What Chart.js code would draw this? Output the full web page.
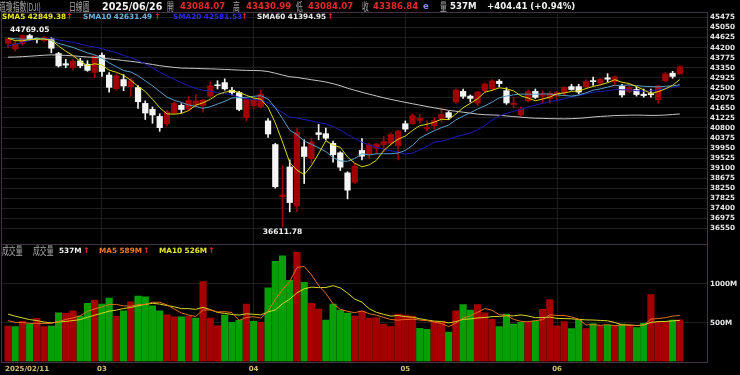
<!DOCTYPE html>
<html>
<head>
<meta charset="utf-8">
<title>道瓊指數(DJI) 日線圖</title>
<script src="https://cdn.jsdelivr.net/npm/chart.js@4.4.1/dist/chart.umd.min.js"></script>
<style>
  html, body { margin: 0; padding: 0; background: #000; }
  #wrap { position: relative; width: 740px; height: 375px; overflow: hidden; background: #000; }
  #priceChart { position: absolute; left: 0; top: 0; }
  #volumeChart { position: absolute; left: 0; top: 244px; }
  .t { position: absolute; white-space: nowrap; font-family: "DejaVu Sans", sans-serif; font-weight: bold; line-height: 1; }
  .h1 { top: 2px; font-size: 8.6px; }
  .h2 { top: 13px; font-size: 7.3px; }
  .h3 { top: 246.5px; font-size: 7.3px; }
  .cjk { font-family: "Noto Sans CJK TC", sans-serif; font-weight: normal; color: #a8a8a8; font-size: 11px; transform: scaleX(0.62); transform-origin: 0 50%; }
  .w { color: #f2f2f2; }
  .r { color: #e42a2a; }
  .up { color: #e42a2a; font-size: 8px; }
</style>
</head>
<body>
<div id="wrap">
  <canvas id="priceChart" width="740" height="245"></canvas>
  <canvas id="volumeChart" width="740" height="131"></canvas>

  <span class="t cjk" style="left:-1px;top:1px">道瓊指數(DJI)</span>
  <span class="t cjk" style="left:69px;top:1px">日線圖</span>
  <span class="t h1 w" style="left:102px;font-size:9.6px;top:1.5px">2025/06/26</span>
  <span class="t cjk" style="left:167px;top:1px">開</span>
  <span class="t h1 r" style="left:180px">43084.07</span>
  <span class="t cjk" style="left:233px;top:1px">高</span>
  <span class="t h1 r" style="left:246px">43430.99</span>
  <span class="t cjk" style="left:296px;top:1px">低</span>
  <span class="t h1 r" style="left:308px">43084.07</span>
  <span class="t cjk" style="left:362px;top:1px">收</span>
  <span class="t h1 r" style="left:373px">43386.84</span>
  <span class="t h1" style="left:423px;color:#8c8cf0">e</span>
  <span class="t cjk" style="left:440px;top:1px">量</span>
  <span class="t h1 w" style="left:450px">537M</span>
  <span class="t h1 w" style="left:487px">+404.41 (+0.94%)</span>

  <span class="t h2" style="left:2px;color:#e6e61e">SMA5 42849.38</span>
  <span class="t h2 up" style="left:66px">↑</span>
  <span class="t h2" style="left:83px;color:#6cb4dc">SMA10 42631.49</span>
  <span class="t h2 up" style="left:154px">↑</span>
  <span class="t h2" style="left:173px;color:#2a2ae6">SMA20 42581.53</span>
  <span class="t h2 up" style="left:241px">↑</span>
  <span class="t h2" style="left:257px;color:#e6e6e6">SMA60 41394.95</span>
  <span class="t h2 up" style="left:327px">↑</span>

  <span class="t cjk" style="left:2px;top:244.5px">成交量</span>
  <span class="t cjk" style="left:33px;top:244.5px">成交量</span>
  <span class="t h3 w" style="left:59px">537M</span>
  <span class="t h3 up" style="left:83px">↑</span>
  <span class="t h3" style="left:99px;color:#ee7a2a">MA5 589M</span>
  <span class="t h3 up" style="left:143px">↑</span>
  <span class="t h3" style="left:159px;color:#e8e82a">MA10 526M</span>
  <span class="t h3 up" style="left:208px">↑</span>
</div>

<script>
// trading days shown, 2025/02/11 - 2025/06/26
const dates = [
  '02/11','02/12','02/13','02/14','02/18','02/19','02/20','02/21','02/24','02/25','02/26','02/27','02/28',
  '03/03','03/04','03/05','03/06','03/07','03/10','03/11','03/12','03/13','03/14','03/17','03/18','03/19','03/20','03/21','03/24','03/25','03/26','03/27','03/28','03/31',
  '04/01','04/02','04/03','04/04','04/07','04/08','04/09','04/10','04/11','04/14','04/15','04/16','04/17','04/21','04/22','04/23','04/24','04/25','04/28','04/29','04/30',
  '05/01','05/02','05/05','05/06','05/07','05/08','05/09','05/12','05/13','05/14','05/15','05/16','05/19','05/20','05/21','05/22','05/23','05/27','05/28','05/29','05/30',
  '06/02','06/03','06/04','06/05','06/06','06/09','06/10','06/11','06/12','06/13','06/16','06/17','06/18','06/20','06/23','06/24','06/25','06/26'
];

const opens = [
  44380, 44150, 44380, 44710, 44580, 44500, 44580, 43950, 43520, 43360, 43640, 43500, 43150,
  43880, 43040, 42470, 42850, 42540, 42510, 41840, 41590, 41290, 40980, 41430, 41760, 41600, 41780, 41750, 42150, 42620, 42720, 42400, 42300, 41240,
  41750, 41700, 41100, 40100, 37890, 39150, 37500, 40000, 39500, 40600, 40560, 40150, 39750, 38900, 38500, 39850, 39700, 39950, 40100, 40150, 40050,
  40980, 40980, 41120, 40780, 40900, 41200, 41450, 41900, 42350, 42150, 41850, 42370, 42460, 42780, 42380, 41790, 41350, 41950, 42350, 42150, 42050,
  42150, 42280, 42550, 42550, 42550, 42790, 42700, 42920, 42750, 42560, 42350, 42430, 42230, 42260, 42000, 42800, 43120, 43084.07
];
const highs = [
  44640, 44480, 44740, 44769.05, 44600, 44680, 44620, 44000, 43700, 43700, 43750, 43650, 43880,
  43980, 43150, 43100, 43060, 42900, 42600, 41950, 41690, 41400, 41560, 41900, 41830, 42150, 42200, 42000, 42750, 42800, 42880, 42520, 42350, 42050,
  42100, 42400, 41200, 40150, 39207, 39450, 40800, 40300, 40350, 40950, 40800, 40250, 39800, 38950, 39300, 40350, 40150, 40150, 40450, 40600, 40700,
  41100, 41400, 41380, 41100, 41250, 41650, 41500, 42450, 42450, 42200, 42350, 42700, 42850, 42850, 42500, 42100, 41700, 42400, 42450, 42380, 42350,
  42350, 42550, 42650, 42650, 42850, 42950, 42900, 43100, 43000, 42650, 42650, 42550, 42450, 42450, 42600, 43150, 43200, 43430.99
];
const lows = [
  44200, 44050, 44300, 44500, 44400, 44450, 43980, 43380, 43350, 43250, 43350, 43200, 42920,
  42980, 42320, 42400, 42380, 42140, 41630, 41160, 41000, 40660, 40900, 41380, 41450, 41520, 41700, 41470, 42100, 42450, 42400, 42200, 41530, 41100,
  41600, 41650, 40400, 38250, 36611.78, 37250, 37260, 38450, 39300, 40300, 40300, 39350, 39000, 37800, 38450, 39450, 39500, 39700, 39800, 40050, 39450,
  40650, 40950, 41000, 40700, 40750, 41050, 41150, 41850, 42050, 41900, 41750, 42300, 42380, 42550, 41800, 41650, 41300, 41900, 42050, 41850, 41850,
  41950, 42200, 42400, 42250, 42500, 42600, 42600, 42750, 42650, 42100, 42300, 42150, 42100, 42100, 41850, 42750, 42900, 43084.07
];
const closes = [
  44593.65, 44368.56, 44711.43, 44546.08, 44556.34, 44627.59, 44176.65, 43428.02, 43461.21, 43621.16, 43433.12, 43239.50, 43840.91,
  43191.24, 42520.99, 43006.59, 42579.08, 42801.72, 41911.71, 41433.48, 41350.93, 40813.57, 41488.19, 41841.63, 41581.31, 41964.63, 41953.32, 41985.35, 42583.32, 42587.50, 42454.79, 42299.70, 41583.90, 42001.76,
  41989.96, 42225.32, 40545.93, 38314.86, 37965.60, 37645.59, 40608.45, 39593.66, 40212.71, 40524.79, 40368.96, 39669.39, 39142.23, 38170.41, 39186.98, 39606.57, 40093.40, 40113.50, 40227.59, 40527.62, 40669.36,
  40752.96, 41317.43, 41218.83, 40829.00, 41113.97, 41368.45, 41249.38, 42410.10, 42140.43, 42051.06, 42322.75, 42654.74, 42792.07, 42677.24, 41860.44, 41859.09, 41603.07, 42343.65, 42098.70, 42215.73, 42270.07,
  42305.48, 42519.64, 42427.74, 42319.74, 42762.87, 42761.76, 42866.87, 42865.77, 42967.62, 42197.79, 42515.09, 42215.80, 42171.66, 42206.82, 42581.78, 43089.02, 42982.43, 43386.84
];
// volume, millions of shares
const volumes = [
  457, 449, 517, 483, 555, 449, 457, 628, 620, 654, 585, 748, 790,
  739, 816, 585, 654, 769, 842, 833, 718, 654, 602, 577, 577, 585, 560, 1030, 560, 461, 598, 504, 530, 739,
  517, 504, 948, 1290, 1363, 1047, 1406, 1021, 748, 675, 534, 739, 662, 624, 585, 650, 560, 564, 483, 449, 611,
  598, 585, 427, 415, 513, 513, 380, 654, 735, 662, 735, 628, 543, 449, 611, 483, 504, 513, 521, 671, 799,
  461, 513, 423, 534, 423, 487, 461, 470, 461, 483, 461, 436, 491, 863, 517, 517, 534, 537
];

// sessions before 02/11 (only feed the moving averages at the left edge)
const priorCloses = [
  43958.19, 43750.86, 43444.99, 43389.60, 43268.94, 43408.47, 43870.35, 44296.51, 44736.57, 44860.31, 44722.06, 44910.65,
  44782.00, 44705.53, 45014.04, 44765.71, 44642.52, 44401.93, 44247.83, 44148.56, 43914.12, 43828.06, 43717.48, 43449.90,
  42326.87, 42342.24, 42840.26, 42906.95, 43297.03, 43325.80, 42992.21, 42573.73, 42544.22,
  42392.27, 42732.13, 42706.56, 42528.36, 42635.20, 41938.45, 42297.12, 42518.28, 43221.55, 43153.13, 43487.83, 44025.81,
  44156.73, 44565.07, 44424.25, 44713.58, 44850.35, 44713.52, 44882.13, 44544.66,
  44421.91, 44556.04, 44873.28, 44747.63, 44303.40, 44470.41
];
const priorVolumes = [720, 740, 700, 680, 640, 560, 520, 545, 548];

const priceTicks = [36550, 36975, 37400, 37825, 38250, 38675, 39100, 39525, 39950, 40375, 40800,
  41225, 41650, 42075, 42500, 42925, 43350, 43775, 44200, 44625, 45050, 45475];
const volumeTicks = [500, 1000];
const monthIdx = [0, 13, 34, 55, 76];
const monthLabels = ['2025/02/11', '03', '04', '05', '06'];

const gridColor = '#1f1f1f';
const frameColor = '#433243';
const upColor = '#a00000';
const downColor = '#f4f4f4';
const volUp = '#a40000';
const volDown = '#06a006';

function movingAverage(series, prior, n) {
    const all = prior.concat(series);
    return series.map((_, i) => {
        const end = prior.length + i + 1;
        let sum = 0;
        for (let k = end - n; k < end; k++) sum += all[k];
        return sum / n;
    });
}

function points(arr) {
    return arr.map((v, i) => ({ x: i, y: v }));
}

const sma5 = movingAverage(closes, priorCloses, 5);
const sma10 = movingAverage(closes, priorCloses, 10);
const sma20 = movingAverage(closes, priorCloses, 20);
const sma60 = movingAverage(closes, priorCloses, 60);
const volMa5 = movingAverage(volumes, priorVolumes, 5);
const volMa10 = movingAverage(volumes, priorVolumes, 10);

const candleColors = closes.map((c, i) => c >= opens[i] ? upColor : downColor);
const volumeColors = closes.map((c, i) => {
    const prev = i === 0 ? priorCloses[priorCloses.length - 1] : closes[i - 1];
    return c >= prev ? volUp : volDown;
});

const tickFont = { family: 'DejaVu Sans', size: 7.2, weight: 'bold' };

function xScale(labelRoom) {
    return {
        type: 'linear',
        min: -0.97,
        max: 96.9,
        offset: false,
        afterBuildTicks: s => { s.ticks = monthIdx.slice(1).map(v => ({ value: v })); },
        afterFit: s => { s.height = labelRoom; s.paddingLeft = 0; s.paddingRight = 0; },
        grid: { color: gridColor, drawTicks: false, offset: false },
        border: { display: false },
        ticks: { display: false }
    };
}

function lineSet(data, color) {
    return { type: 'line', data: points(data), borderColor: color, borderWidth: 1,
        pointRadius: 0, tension: 0, order: 0 };
}

function drawFrame(chart) {
    const { ctx, chartArea: a } = chart;
    ctx.save();
    ctx.strokeStyle = frameColor;
    ctx.lineWidth = 1;
    ctx.strokeRect(Math.round(a.left) + 0.5, Math.round(a.top) + 0.5,
        Math.round(a.right - a.left) - 1, Math.round(a.bottom - a.top));
    ctx.restore();
}

const priceDecor = {
    id: 'priceDecor',
    afterDraw(chart) {
        drawFrame(chart);
        const { ctx, scales } = chart;
        const hi = Math.max(...highs), iHi = highs.indexOf(hi);
        const lo = Math.min(...lows), iLo = lows.indexOf(lo);
        ctx.save();
        ctx.font = 'bold 7.5px "DejaVu Sans"';
        ctx.fillStyle = '#f0f0f0';
        ctx.textAlign = 'center';
        ctx.textBaseline = 'bottom';
        ctx.fillText(hi.toFixed(2), scales.x.getPixelForValue(iHi), scales.y.getPixelForValue(hi) - 0.5);
        ctx.textBaseline = 'top';
        ctx.fillText(lo.toFixed(2), scales.x.getPixelForValue(iLo), scales.y.getPixelForValue(lo) + 1);
        ctx.restore();
    }
};

const volumeDecor = {
    id: 'volumeDecor',
    afterDraw(chart) {
        drawFrame(chart);
        const { ctx, chartArea: a, scales } = chart;
        ctx.save();
        ctx.font = 'bold 7px "DejaVu Sans"';
        ctx.fillStyle = '#cfc070';
        ctx.textBaseline = 'middle';
        monthIdx.forEach((m, k) => {
            const px = scales.x.getPixelForValue(m);
            if (k === 0) {
                ctx.textAlign = 'left';
                ctx.fillText(monthLabels[k], px - 3, a.bottom + 8);
            } else {
                ctx.textAlign = 'center';
                ctx.fillText(monthLabels[k], px, a.bottom + 8);
            }
        });
        ctx.restore();
    }
};

new Chart(document.getElementById('priceChart'), {
    type: 'bar',
    data: {
        datasets: [
            lineSet(sma5, '#d8d800'),
            lineSet(sma10, '#5a9ec8'),
            lineSet(sma20, '#1c1cba'),
            lineSet(sma60, '#c4c4c4'),
            {
                label: 'body',
                data: closes.map((c, i) => ({ x: i, y: [opens[i], c] })),
                backgroundColor: candleColors,
                barThickness: 5.6,
                minBarLength: 1,
                grouped: false,
                order: 1
            },
            {
                label: 'wick',
                data: highs.map((h, i) => ({ x: i, y: [lows[i], h] })),
                backgroundColor: candleColors,
                barThickness: 1,
                grouped: false,
                order: 2
            }
        ]
    },
    options: {
        responsive: false,
        animation: false,
        devicePixelRatio: 1,
        layout: { padding: { left: 1, top: 12, right: 0, bottom: 0 } },
        plugins: { legend: { display: false }, tooltip: { enabled: false } },
        scales: {
            x: xScale(0),
            y: {
                position: 'right',
                min: 35848.75,
                max: 45708.75,
                afterBuildTicks: s => { s.ticks = priceTicks.map(v => ({ value: v })); },
                afterFit: s => { s.width = 32; s.paddingTop = 0; s.paddingBottom = 0; },
                grid: { color: gridColor, drawTicks: false },
                border: { display: false },
                ticks: { color: '#e6e6e6', font: tickFont, padding: 2, autoSkip: false, crossAlign: 'near',
                    callback: v => String(v) }
            }
        }
    },
    plugins: [priceDecor]
});

new Chart(document.getElementById('volumeChart'), {
    type: 'bar',
    data: {
        datasets: [
            lineSet(volMa5, '#e0701e'),
            lineSet(volMa10, '#d8d820'),
            {
                label: 'volume',
                data: points(volumes),
                backgroundColor: volumeColors,
                barThickness: 6.5,
                grouped: false,
                order: 1
            }
        ]
    },
    options: {
        responsive: false,
        animation: false,
        devicePixelRatio: 1,
        layout: { padding: { left: 1, top: 0, right: 0, bottom: 0 } },
        plugins: { legend: { display: false }, tooltip: { enabled: false } },
        scales: {
            x: xScale(13.5),
            y: {
                position: 'right',
                min: 0,
                max: 1514,
                afterBuildTicks: s => { s.ticks = volumeTicks.map(v => ({ value: v })); },
                afterFit: s => { s.width = 32; s.paddingTop = 0; s.paddingBottom = 0; },
                grid: { color: gridColor, drawTicks: false },
                border: { display: false },
                ticks: { color: '#e6e6e6', font: tickFont, padding: 2, autoSkip: false, crossAlign: 'near',
                    callback: v => v + 'M' }
            }
        }
    },
    plugins: [volumeDecor]
});
</script>
</body>
</html>
